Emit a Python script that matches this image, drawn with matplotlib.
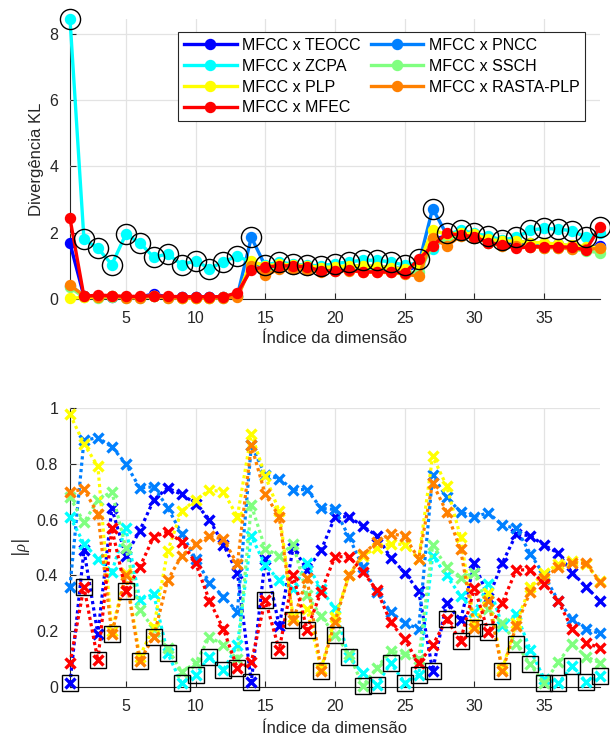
import numpy as np
import matplotlib
matplotlib.use("Agg")
import matplotlib.pyplot as plt

plt.rcParams['font.family'] = ['Liberation Sans', 'DejaVu Sans']
plt.rcParams['mathtext.fontset'] = 'custom'
plt.rcParams['mathtext.it'] = 'Liberation Serif:italic'

dims = np.arange(1, 40)

series_names = ["MFCC x TEOCC", "MFCC x PNCC", "MFCC x ZCPA", "MFCC x SSCH",
                "MFCC x PLP", "MFCC x RASTA-PLP", "MFCC x MFEC"]
series_colors = [(0, 0, 1), (0, 0.5, 1), (0, 1, 1), (0.5, 1, 0.5),
                 (1, 1, 0), (1, 0.5, 0), (1, 0, 0)]

# KL divergence per dimension
kl_teocc = [1.68, 0.08, 0.06, 0.07, 0.05, 0.06, 0.15, 0.06, 0.05, 0.05, 0.05, 0.06, 0.10,
            1.05, 0.95, 1.00, 1.00, 0.97, 0.92, 0.92, 0.95, 0.92, 0.90, 0.90, 0.85, 1.00,
            1.80, 1.90, 1.95, 1.90, 1.80, 1.70, 1.70, 1.65, 1.60, 1.60, 1.55, 1.55, 1.60]
kl_pncc = [0.40, 0.10, 0.07, 0.08, 0.06, 0.06, 0.10, 0.06, 0.05, 0.05, 0.05, 0.06, 0.10,
           1.86, 1.00, 1.05, 1.02, 1.00, 0.95, 0.95, 1.00, 1.00, 0.98, 0.95, 0.92, 1.05,
           2.73, 1.95, 2.00, 1.95, 1.80, 1.75, 1.75, 1.70, 1.65, 1.65, 1.60, 1.55, 1.55]
kl_zcpa = [8.45, 1.80, 1.53, 1.04, 1.95, 1.70, 1.26, 1.36, 1.04, 1.15, 0.92, 1.12, 1.30,
           1.10, 1.02, 1.12, 1.05, 1.02, 1.00, 1.07, 1.12, 1.17, 1.17, 1.12, 1.02, 1.10,
           1.50, 1.93, 2.08, 1.98, 1.90, 1.78, 1.86, 2.08, 2.13, 2.11, 2.06, 1.86, 2.00]
kl_ssch = [0.35, 0.05, 0.04, 0.05, 0.04, 0.04, 0.08, 0.04, 0.03, 0.03, 0.03, 0.04, 0.08,
           1.00, 0.85, 0.95, 0.95, 0.90, 0.85, 0.88, 0.90, 0.88, 0.85, 0.85, 0.80, 0.80,
           1.60, 1.85, 1.90, 1.85, 1.70, 1.60, 1.60, 1.58, 1.55, 1.55, 1.50, 1.45, 1.40]
kl_plp = [0.02, 0.05, 0.05, 0.10, 0.05, 0.05, 0.10, 0.05, 0.04, 0.04, 0.04, 0.05, 0.08,
          1.14, 1.00, 1.05, 1.03, 1.00, 0.95, 0.97, 1.00, 1.00, 0.98, 0.95, 0.90, 1.05,
          2.08, 1.95, 2.00, 1.95, 1.80, 1.75, 1.75, 1.70, 1.70, 1.65, 1.62, 1.58, 1.55]
kl_rasta = [0.42, 0.10, 0.05, 0.08, 0.04, 0.04, 0.08, 0.04, 0.03, 0.03, 0.03, 0.04, 0.05,
            1.00, 0.72, 0.90, 0.92, 0.88, 0.82, 0.85, 0.85, 0.82, 0.80, 0.80, 0.75, 0.69,
            1.85, 1.60, 1.90, 1.85, 1.70, 1.60, 1.60, 1.58, 1.55, 1.55, 1.52, 1.50, 1.53]
kl_mfec = [2.43, 0.08, 0.12, 0.10, 0.08, 0.08, 0.10, 0.08, 0.07, 0.07, 0.07, 0.07, 0.19,
           0.89, 0.97, 1.00, 1.00, 0.97, 0.85, 0.85, 0.87, 0.82, 0.82, 0.82, 0.79, 1.20,
           1.60, 1.98, 1.93, 1.88, 1.70, 1.63, 1.53, 1.58, 1.58, 1.58, 1.56, 1.48, 2.18]

# absolute correlation per dimension
rho_teocc = [0.014, 0.49, 0.19, 0.64, 0.47, 0.56, 0.67, 0.713, 0.69, 0.657, 0.60, 0.51, 0.41,
             0.02, 0.46, 0.218, 0.50, 0.42, 0.49, 0.61, 0.61, 0.576, 0.542, 0.463, 0.41, 0.344,
             0.06, 0.30, 0.24, 0.443, 0.32, 0.445, 0.548, 0.542, 0.508, 0.48, 0.41, 0.36, 0.308]
rho_pncc = [0.36, 0.883, 0.893, 0.86, 0.80, 0.713, 0.717, 0.643, 0.55, 0.46, 0.374, 0.324, 0.27,
            0.865, 0.76, 0.746, 0.707, 0.707, 0.64, 0.636, 0.538, 0.43, 0.34, 0.27, 0.229, 0.21,
            0.758, 0.68, 0.627, 0.61, 0.624, 0.58, 0.568, 0.478, 0.40, 0.31, 0.245, 0.207, 0.193]
rho_zcpa = [0.61, 0.514, 0.46, 0.413, 0.57, 0.314, 0.333, 0.122, 0.014, 0.044, 0.11, 0.062, 0.15,
            0.54, 0.437, 0.383, 0.35, 0.443, 0.35, 0.282, 0.107, 0.05, 0.01, 0.086, 0.016, 0.044,
            0.47, 0.40, 0.327, 0.27, 0.369, 0.22, 0.263, 0.134, 0.03, 0.014, 0.075, 0.02, 0.04]
rho_ssch = [0.68, 0.59, 0.67, 0.70, 0.50, 0.277, 0.21, 0.14, 0.056, 0.086, 0.18, 0.152, 0.10,
            0.651, 0.496, 0.47, 0.512, 0.33, 0.254, 0.188, 0.12, 0.005, 0.07, 0.13, 0.12, 0.10,
            0.508, 0.43, 0.39, 0.41, 0.28, 0.23, 0.154, 0.082, 0.014, 0.09, 0.155, 0.11, 0.087]
rho_plp = [0.976, 0.871, 0.79, 0.20, 0.41, 0.11, 0.215, 0.487, 0.63, 0.67, 0.705, 0.70, 0.61,
           0.907, 0.755, 0.63, 0.25, 0.28, 0.065, 0.25, 0.40, 0.47, 0.50, 0.514, 0.51, 0.46,
           0.827, 0.72, 0.538, 0.225, 0.336, 0.065, 0.23, 0.36, 0.41, 0.44, 0.45, 0.44, 0.38]
rho_rasta = [0.70, 0.708, 0.62, 0.19, 0.40, 0.094, 0.18, 0.383, 0.47, 0.514, 0.54, 0.53, 0.44,
             0.865, 0.69, 0.61, 0.24, 0.39, 0.06, 0.235, 0.40, 0.476, 0.52, 0.55, 0.54, 0.46,
             0.73, 0.627, 0.493, 0.213, 0.31, 0.058, 0.22, 0.342, 0.39, 0.43, 0.446, 0.443, 0.377]
rho_mfec = [0.086, 0.36, 0.096, 0.568, 0.345, 0.43, 0.538, 0.556, 0.52, 0.445, 0.31, 0.208, 0.068,
            0.09, 0.313, 0.134, 0.40, 0.206, 0.342, 0.467, 0.467, 0.413, 0.347, 0.232, 0.171, 0.086,
            0.15, 0.243, 0.167, 0.355, 0.196, 0.303, 0.42, 0.42, 0.37, 0.31, 0.208, 0.16, 0.14]

kl_all = [kl_teocc, kl_pncc, kl_zcpa, kl_ssch, kl_plp, kl_rasta, kl_mfec]
rho_all = [rho_teocc, rho_pncc, rho_zcpa, rho_ssch, rho_plp, rho_rasta, rho_mfec]

text_col = '#262626'
W, H = 610, 742
fig = plt.figure(figsize=(W / 100, H / 100), dpi=100)
ax1 = fig.add_axes([70 / W, 1 - 299 / H, 530 / W, 280 / H])
ax2 = fig.add_axes([70 / W, 1 - 687.3 / H, 530 / W, 279.6 / H])


def style_axes(ax):
    for s in ('top', 'right'):
        ax.spines[s].set_visible(False)
    for s in ('left', 'bottom'):
        ax.spines[s].set_color(text_col)
        ax.spines[s].set_linewidth(0.8)
        ax.spines[s].set_zorder(0.5)
    ax.grid(True, color='#e3e3e3', linewidth=0.9)
    ax.set_axisbelow(True)
    ax.tick_params(direction='in', length=4, width=0.8, colors=text_col,
                   labelsize=11.5, pad=8.5)
    ax.set_xlim(1, 39)
    ax.set_xticks([5, 10, 15, 20, 25, 30, 35])


# --- KL divergence panel ---
handles = []
for vals, name, col in zip(kl_all, series_names, series_colors):
    h, = ax1.plot(dims, vals, '-o', color=col, lw=2.4, ms=7.2, mec=col,
                  mfc=col, label=name, clip_on=False)
    handles.append(h)
kl_arr = np.array(kl_all)
ax1.plot(dims, kl_arr.max(axis=0), 'o', ms=14.5, mfc='none', mec='k', mew=1.0,
         clip_on=False)
style_axes(ax1)
ax1.set_ylim(0, 8.45)
ax1.set_yticks([0, 2, 4, 6, 8])
ax1.set_ylabel('Divergência KL', fontsize=12, color=text_col, labelpad=4)
ax1.set_xlabel('Índice da dimensão', fontsize=12, color=text_col, labelpad=4)

order = [0, 2, 4, 6, 1, 3, 5]
leg = ax1.legend([handles[i] for i in order], [series_names[i] for i in order],
                 ncol=2, loc='upper right', bbox_to_anchor=(0.972, 0.952),
                 fontsize=11.5, frameon=True, fancybox=False, framealpha=1,
                 edgecolor=text_col, handlelength=3.3, handletextpad=0.35,
                 columnspacing=0.6, labelspacing=0.36, borderpad=0.35,
                 borderaxespad=0)
leg.get_frame().set_linewidth(0.8)
leg.set_zorder(10)
for t in leg.get_texts():
    t.set_color('black')

# --- correlation panel ---
for vals, col in zip(rho_all, series_colors):
    ax2.plot(dims, vals, linestyle=(0, (1, 1)), color=col, lw=2.3,
             marker='x', ms=7, mew=2.4, mec=col, clip_on=False)
rho_arr = np.array(rho_all)
ax2.plot(dims, rho_arr.min(axis=0), 's', ms=12, mfc='none', mec='k', mew=1.0,
         clip_on=False)
style_axes(ax2)
ax2.set_ylim(0, 1)
ax2.set_yticks([0, 0.2, 0.4, 0.6, 0.8, 1])
ax2.set_yticklabels(['0', '0.2', '0.4', '0.6', '0.8', '1'])
ax2.set_ylabel(r'$|\rho|$', fontsize=12, color=text_col, labelpad=3)
ax2.set_xlabel('Índice da dimensão', fontsize=12, color=text_col, labelpad=5)

fig.savefig('out.png', dpi=100)
